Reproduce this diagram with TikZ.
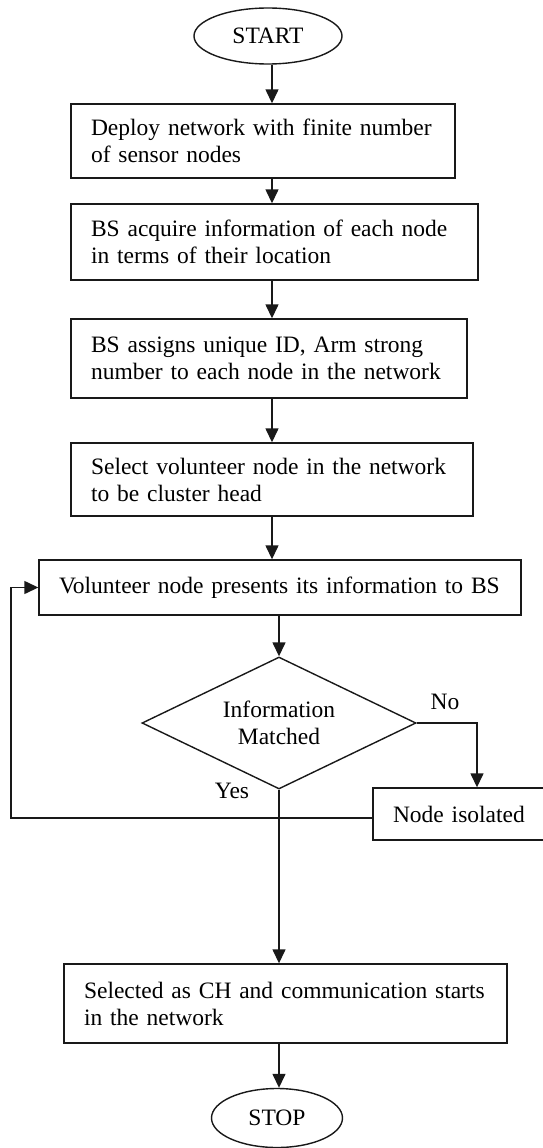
\documentclass[tikz,border=0pt]{standalone}
\usepackage{fontspec}
\setmainfont{Liberation Serif}
\usetikzlibrary{shapes.geometric,arrows.meta}
\begin{document}
\begin{tikzpicture}[x=1pt,y=-1pt,
  every node/.style={font=\fontsize{23.5}{27}\selectfont},
  line/.style={draw=black!90, line width=1.4pt},
  arr/.style={line, -{Triangle[length=14pt,width=13pt]}},
  box/.style={line, rectangle, inner xsep=20pt, inner ysep=0pt, align=left},
  term/.style={line, ellipse, inner sep=0pt},
  decide/.style={line, diamond, aspect=2.08, inner sep=0pt, align=center, minimum width=274pt, minimum height=132pt},
  lbl/.style={inner sep=0pt}
]
\clip (0,0) rectangle (543,1148);
\fill[white] (0,0) rectangle (543,1148);

\node[term, minimum width=148pt, minimum height=56pt] (start) at (268,36) {START};

\node[box, text width=344pt, minimum height=74pt] (b1) at (263,141)
  {Deploy network with finite number\\of sensor nodes};
\node[box, text width=367pt, minimum height=76pt] (b2) at (274.5,242)
  {BS acquire information of each node\\in terms of their location};
\node[box, text width=356pt, minimum height=79pt] (b3) at (269,358.5)
  {BS assigns unique ID, Arm strong\\number to each node in the network};
\node[box, text width=362pt, minimum height=73pt] (b4) at (272,479.5)
  {Select volunteer node in the network\\to be cluster head};
\node[box, text width=442pt, minimum height=55pt] (b5) at (280,587.5)
  {Volunteer node presents its information to BS};

\node[decide] (dia) at (279,723) {Information\\Matched};

\node[box, text width=133pt, minimum height=52pt] (iso) at (459.5,814) {Node isolated};

\node[box, text width=403pt, minimum height=79pt] (b6) at (285.5,1003.5)
  {Selected as CH and communication starts\\in the network};

\node[term, minimum width=131pt, minimum height=59pt] (stop) at (277,1118) {STOP};

\node[lbl] (no) at (445,702) {No};
\node[lbl] (yes) at (232,791) {Yes};

\coordinate (ax) at (272,0);
\coordinate (nx) at (477,0);
\coordinate (fb) at (11,818);

\draw[arr] (start.south -| ax) -- (b1.north -| ax);
\draw[arr] (b1.south -| ax) -- (b2.north -| ax);
\draw[arr] (b2.south -| ax) -- (b3.north -| ax);
\draw[arr] (b3.south -| ax) -- (b4.north -| ax);
\draw[arr] (b4.south -| ax) -- (b5.north -| ax);
\draw[arr] (b5.south -| dia.north) -- (dia.north);
\draw[arr] (dia.east) -| (iso.north -| nx);
\draw[arr] (iso.west |- fb) -- (fb) |- (b5.west);
\draw[arr] (dia.south) -- (b6.north -| dia.south);
\draw[arr] (b6.south -| dia.south) -- (stop.north -| dia.south);
\end{tikzpicture}
\end{document}
